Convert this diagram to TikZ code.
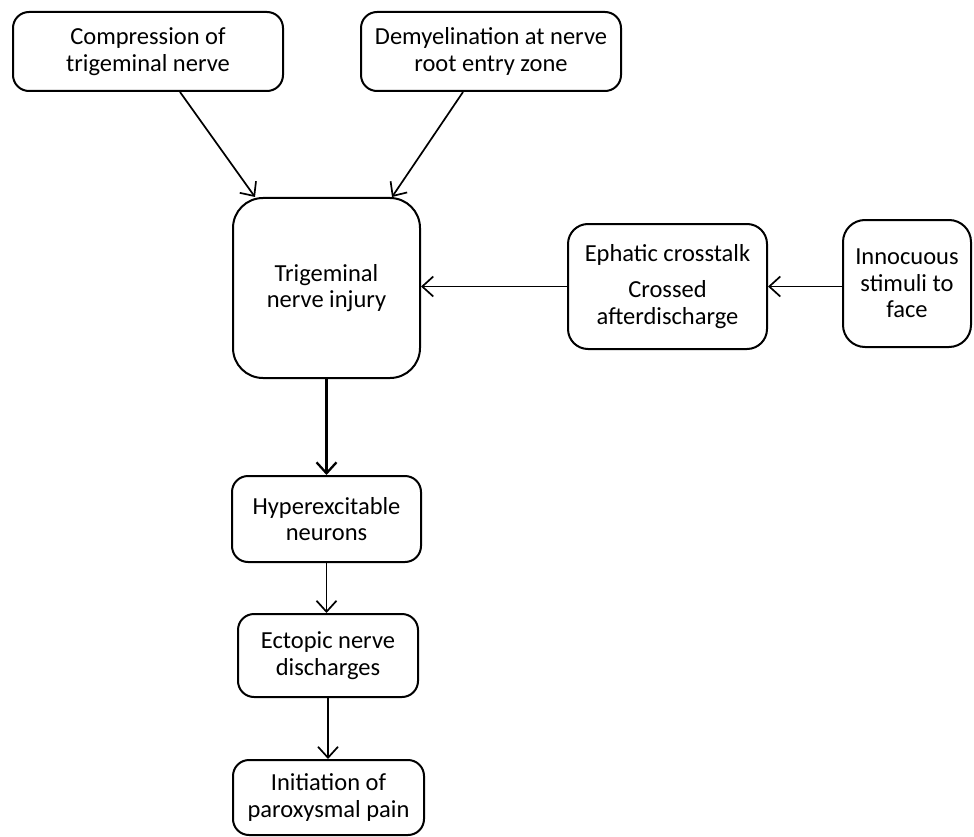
\documentclass[tikz,border=0pt]{standalone}
\usepackage{fontspec}
\setmainfont{Carlito}
\usetikzlibrary{arrows.meta}
\begin{document}
\begin{tikzpicture}[x=1pt,y=-1pt,
    box/.style={draw,line width=2pt,rounded corners=#1,align=center,inner sep=0pt,font=\fontsize{24.5}{26.5}\selectfont},
    box/.default=16pt,
    link/.style={-{Straight Barb[length=11pt,width=20pt]},line width=1.7pt}]
  \useasboundingbox (0,0) rectangle (974,837);
  % causes
  \node[box,minimum width=270pt,minimum height=79pt] (compress) at (148,51.5) {Compression of\\trigeminal nerve};
  \node[box,minimum width=260pt,minimum height=79pt] (demyel) at (491,51.5) {Demyelination at nerve\\root entry zone};
  \node[box=30pt,minimum width=187pt,minimum height=180pt] (injury) at (326.5,288) {Trigeminal\\nerve injury};
  \node[box=20pt,minimum width=199pt,minimum height=125pt] (ephatic) at (667.5,286.5) {Ephatic crosstalk\\[10pt]Crossed\\afterdischarge};
  \node[box=22pt,minimum width=128pt,minimum height=127pt] (stimuli) at (907,283.5) {Innocuous\\stimuli to\\face};
  % chain
  \node[box,minimum width=189pt,minimum height=86pt] (hyper) at (326.5,519) {Hyperexcitable\\neurons};
  \node[box,minimum width=180pt,minimum height=83pt] (ectopic) at (328,655.5) {Ectopic nerve\\discharges};
  \node[box,minimum width=191pt,minimum height=75pt] (pain) at (328.5,797.5) {Initiation of\\paroxysmal pain};
  % arrows
  \draw[link] ([xshift=32pt]compress.south) -- ([xshift=-71.5pt]injury.north);
  \draw[link] ([xshift=-28pt]demyel.south) -- ([xshift=65.5pt]injury.north);
  \draw[link] (ephatic.west) -- (ephatic.west -| injury.east);
  \draw[link] (stimuli.west |- ephatic.east) -- (ephatic.east);
  \draw[link,line width=2.3pt] (injury.south) -- (hyper.north);
  \draw[link] (hyper.south) -- (hyper.south |- ectopic.north);
  \draw[link] (ectopic.south) -- (ectopic.south |- pain.north);
\end{tikzpicture}
\end{document}
